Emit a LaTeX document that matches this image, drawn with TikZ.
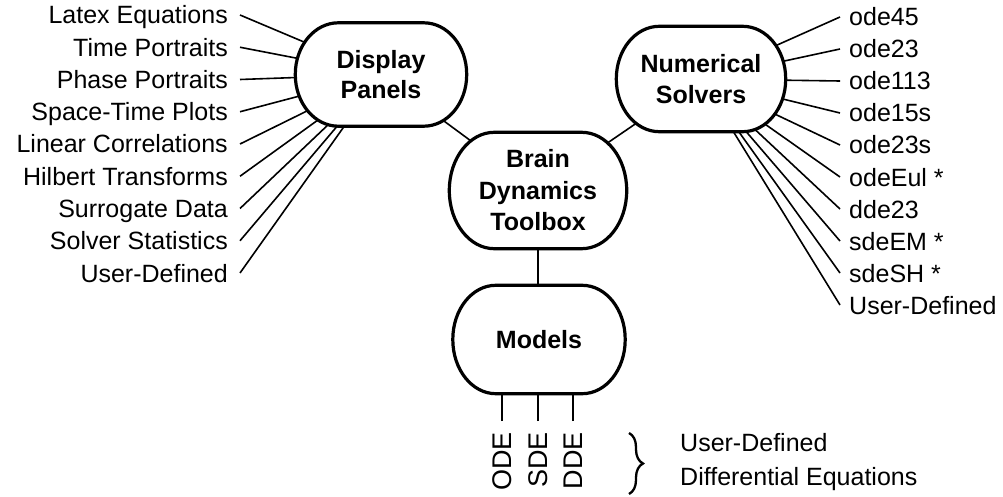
\documentclass[tikz,border=0pt]{standalone}
\usepackage{fontspec}
\setmainfont{Liberation Sans}
\usetikzlibrary{backgrounds,decorations.pathreplacing}
\pgfdeclarelayer{frame}
\pgfsetlayers{background,frame,main}
\newcommand\hubframe[3]{%
  \draw[hubline] ([xshift=#2]#1.north west) -- ([xshift=-#2]#1.north east)
    arc[start angle=90,end angle=0,x radius=#2,y radius=#3]
    -- ([yshift=#3]#1.south east)
    arc[start angle=0,end angle=-90,x radius=#2,y radius=#3]
    -- ([xshift=#2]#1.south west)
    arc[start angle=-90,end angle=-180,x radius=#2,y radius=#3]
    -- ([yshift=-#3]#1.north west)
    arc[start angle=180,end angle=90,x radius=#2,y radius=#3] -- cycle;}
\begin{document}
\begin{tikzpicture}[x=1pt,y=-1pt,
  hub/.style={align=center, font=\fontsize{25}{30.5}\selectfont\bfseries, inner sep=0pt},
  hubline/.style={draw, line width=3.2pt, fill=white},
  leftlbl/.style={anchor=east, inner xsep=12pt, inner ysep=0pt, text height=18pt, text depth=0pt,
    font=\fontsize{25}{30}\selectfont},
  rightlbl/.style={anchor=west, inner xsep=9pt, inner ysep=0pt, text height=18pt, text depth=0pt,
    font=\fontsize{25}{30}\selectfont},
  vlbl/.style={rotate=90, anchor=east, inner xsep=11pt, inner ysep=0pt, text height=19.3pt, text depth=0pt,
    font=\fontsize{27}{27}\selectfont},
  conn/.style={line width=1.6pt},
  bracestyle/.style={line width=2.3pt, decorate, decoration={brace, amplitude=14pt}}
]
\useasboundingbox (0,0) rectangle (1003,497);
% hubs
\node[hub, minimum width=171pt, minimum height=103pt] (dp) at (381,74.5) {Display\\Panels};
\node[hub, minimum width=169pt, minimum height=105pt] (ns) at (701,79) {Numerical\\Solvers};
\node[hub, minimum width=177pt, minimum height=116pt, font=\fontsize{25}{31.5}\selectfont\bfseries] (bdt) at (538,190.5) {Brain\\Dynamics\\Toolbox};
\node[hub, minimum width=172pt, minimum height=108pt] (mo) at (539,339.5) {Models};
\begin{pgfonlayer}{frame}
  \hubframe{dp}{43pt}{51.5pt}
  \hubframe{ns}{43pt}{52.5pt}
  \hubframe{bdt}{45pt}{58pt}
  \hubframe{mo}{43pt}{54pt}
\end{pgfonlayer}
% left labels
\foreach \t [count=\i from 0] in {Latex Equations,Time Portraits,Phase Portraits,Space-Time Plots,Linear Correlations,Hilbert Transforms,Surrogate Data,Solver Statistics,User-Defined}
  \node[leftlbl] (L\i) at (240,{15+32.25*\i}) {\t};
% right labels
\foreach \t [count=\i from 0] in {ode45,ode23,ode113,ode15s,ode23s,odeEul *,dde23,sdeEM *,sdeSH *,User-Defined}
  \node[rightlbl] (R\i) at (840,{17+32*\i}) {\t};
% model types
\node[vlbl] (ode) at (502,421) {ODE};
\node[vlbl] (sde) at (538,421) {SDE};
\node[vlbl] (dde) at (573,421) {DDE};
% brace and note
\coordinate (bt) at (629,433);
\coordinate (bb) at (629,494);
\draw[bracestyle] (bt) -- (bb);
\node[anchor=west, align=left, inner sep=0pt, font=\fontsize{25}{34}\selectfont] (ude) at (680,462) {User-Defined\\Differential Equations};
% connectors
\begin{pgfonlayer}{background}
  \foreach \i in {0,...,8} \draw[conn] (L\i.east) -- (dp.center);
  \foreach \i in {0,...,9} \draw[conn] (R\i.west) -- (ns.center);
  \draw[conn] (dp.center) -- (bdt.center);
  \draw[conn] (ns.center) -- (bdt.center);
  \draw[conn] (bdt.center) -- (bdt.center |- mo.center);
  \foreach \n in {ode,sde,dde} \draw[conn] (\n.east) -- (\n.east |- mo.center);
\end{pgfonlayer}
\end{tikzpicture}
\end{document}
